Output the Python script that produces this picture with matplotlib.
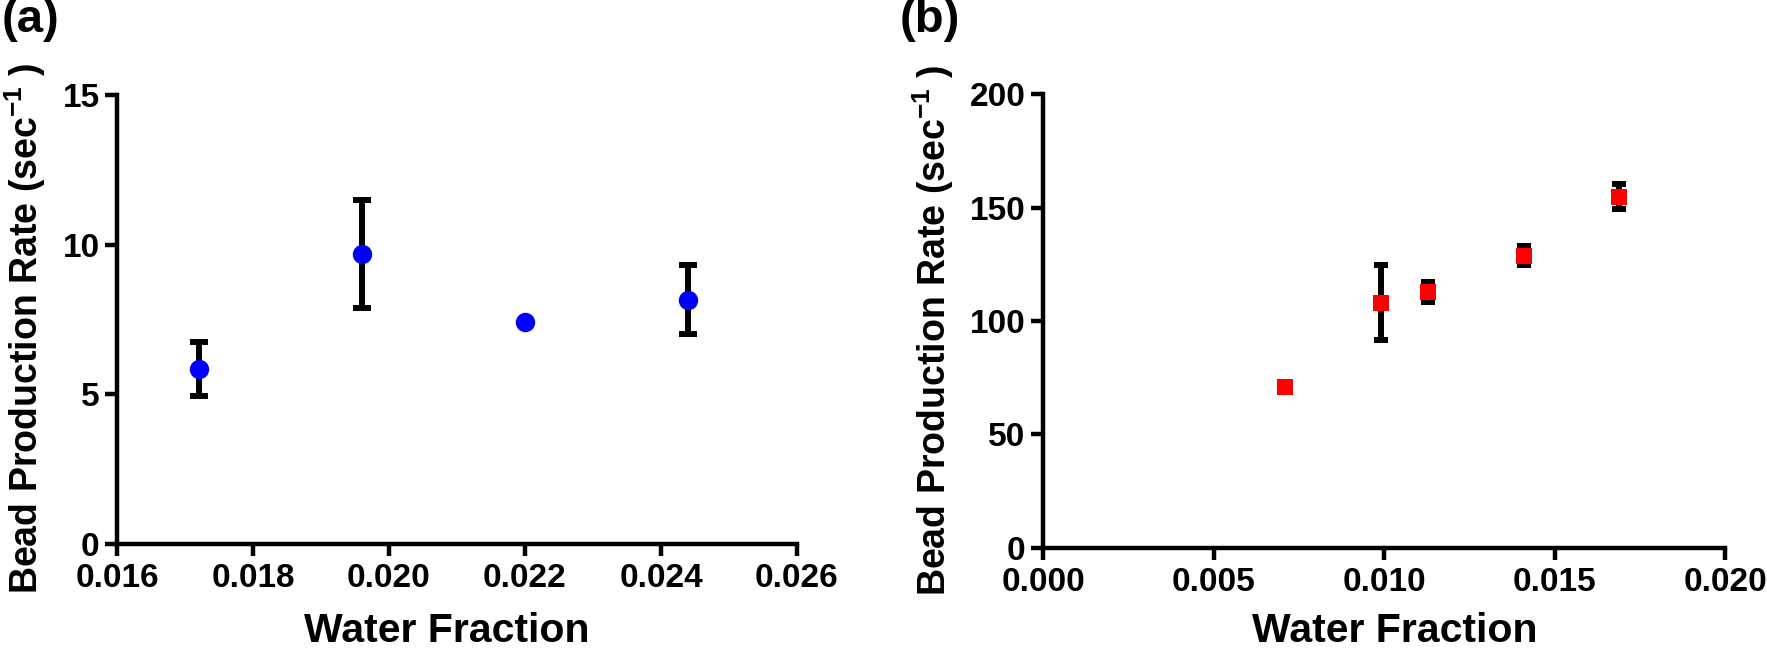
"""Bead production rate vs water fraction, two panels."""

import matplotlib
matplotlib.use("Agg")
import matplotlib.pyplot as plt
import numpy as np

plt.rcParams["font.family"] = ["Liberation Sans", "DejaVu Sans"]
plt.rcParams["font.weight"] = "bold"
plt.rcParams["mathtext.fontset"] = "custom"
plt.rcParams["mathtext.rm"] = "Liberation Sans:bold"
plt.rcParams["mathtext.bf"] = "Liberation Sans:bold"
plt.rcParams["mathtext.default"] = "rm"

# panel (a)
a_x = [0.0172, 0.0196, 0.0220, 0.0244]
a_y = [5.84, 9.68, 7.42, 8.16]
a_err = [0.90, 1.81, 0.0, 1.15]
a_xticks = [0.016, 0.018, 0.020, 0.022, 0.024, 0.026]
a_xticklabels = ["0.016", "0.018", "0.020", "0.022", "0.024", "0.026"]
a_yticks = [0, 5, 10, 15]

# panel (b)
b_x = [0.0071, 0.0099, 0.0113, 0.0141, 0.0169]
b_y = [70.9, 108.1, 112.8, 128.8, 154.8]
b_err = [0.0, 16.6, 4.5, 4.3, 5.5]
b_xticks = [0.000, 0.005, 0.010, 0.015, 0.020]
b_xticklabels = ["0.000", "0.005", "0.010", "0.015", "0.020"]
b_yticks = [0, 50, 100, 150, 200]

X_LABEL = "Water Fraction"
Y_LABEL = "Bead Production Rate (sec$^{-1}$ )"

W, H = 1767, 649


def style_axes(ax, xticks, xticklabels, yticks):
    for side in ("top", "right"):
        ax.spines[side].set_visible(False)
    for side in ("left", "bottom"):
        ax.spines[side].set_linewidth(3.2)
    ax.set_xticks(xticks)
    ax.set_xticklabels(xticklabels)
    ax.set_yticks(yticks)
    ax.set_xlim(xticks[0], xticks[-1])
    ax.set_ylim(yticks[0], yticks[-1])
    ax.tick_params(axis="both", direction="out", length=8.6, width=3.2,
                   labelsize=24)
    ax.tick_params(axis="x", pad=5)
    ax.tick_params(axis="y", pad=4)
    for lbl in ax.get_xticklabels() + ax.get_yticklabels():
        lbl.set_fontweight("bold")


def draw_points(ax, x, y, err, marker, color, msize, capsize):
    x = np.asarray(x)
    y = np.asarray(y)
    err = np.asarray(err)
    has_err = err > 0
    ax.errorbar(x[has_err], y[has_err], yerr=err[has_err], fmt="none",
                ecolor="black", elinewidth=4.3, capsize=capsize, capthick=4.3,
                zorder=3)
    ax.plot(x, y, linestyle="none", marker=marker, color=color,
            markersize=msize, markeredgewidth=0, zorder=4, clip_on=False)


fig = plt.figure(figsize=(W / 100, H / 100), dpi=100)

# axes placed in pixel terms of the reference
ax_a = fig.add_axes([117 / W, 1 - 544 / H, 680 / W, 449 / H])
ax_b = fig.add_axes([1043 / W, 1 - 547.7 / H, 682 / W, 453.4 / H])

draw_points(ax_a, a_x, a_y, a_err, "o", "#0000ff", 14, 6.5)
style_axes(ax_a, a_xticks, a_xticklabels, a_yticks)

draw_points(ax_b, b_x, b_y, b_err, "s", "#ff0000", 11, 5)
style_axes(ax_b, b_xticks, b_xticklabels, b_yticks)

for ax, ybot, hgt, xc in ((ax_a, 544, 449, 0.485), (ax_b, 547.7, 453.4, 0.516)):
    ax.set_xlabel(X_LABEL, fontsize=29.5, fontweight="bold")
    ax.xaxis.set_label_coords(xc, -(612 - ybot) / hgt)

fig.text(25 / W, 1 - 328 / H, Y_LABEL, rotation=90, ha="center", va="center",
         fontsize=27, fontweight="bold")
fig.text(933 / W, 1 - 330 / H, Y_LABEL, rotation=90, ha="center", va="center",
         fontsize=27, fontweight="bold")

fig.text(2 / W, 1 + 2 / H, "(a)", ha="left", va="top", fontsize=34,
         fontweight="bold")
fig.text(900 / W, 1 + 2 / H, "(b)", ha="left", va="top", fontsize=34,
         fontweight="bold")

fig.savefig("out.png", dpi=100)
